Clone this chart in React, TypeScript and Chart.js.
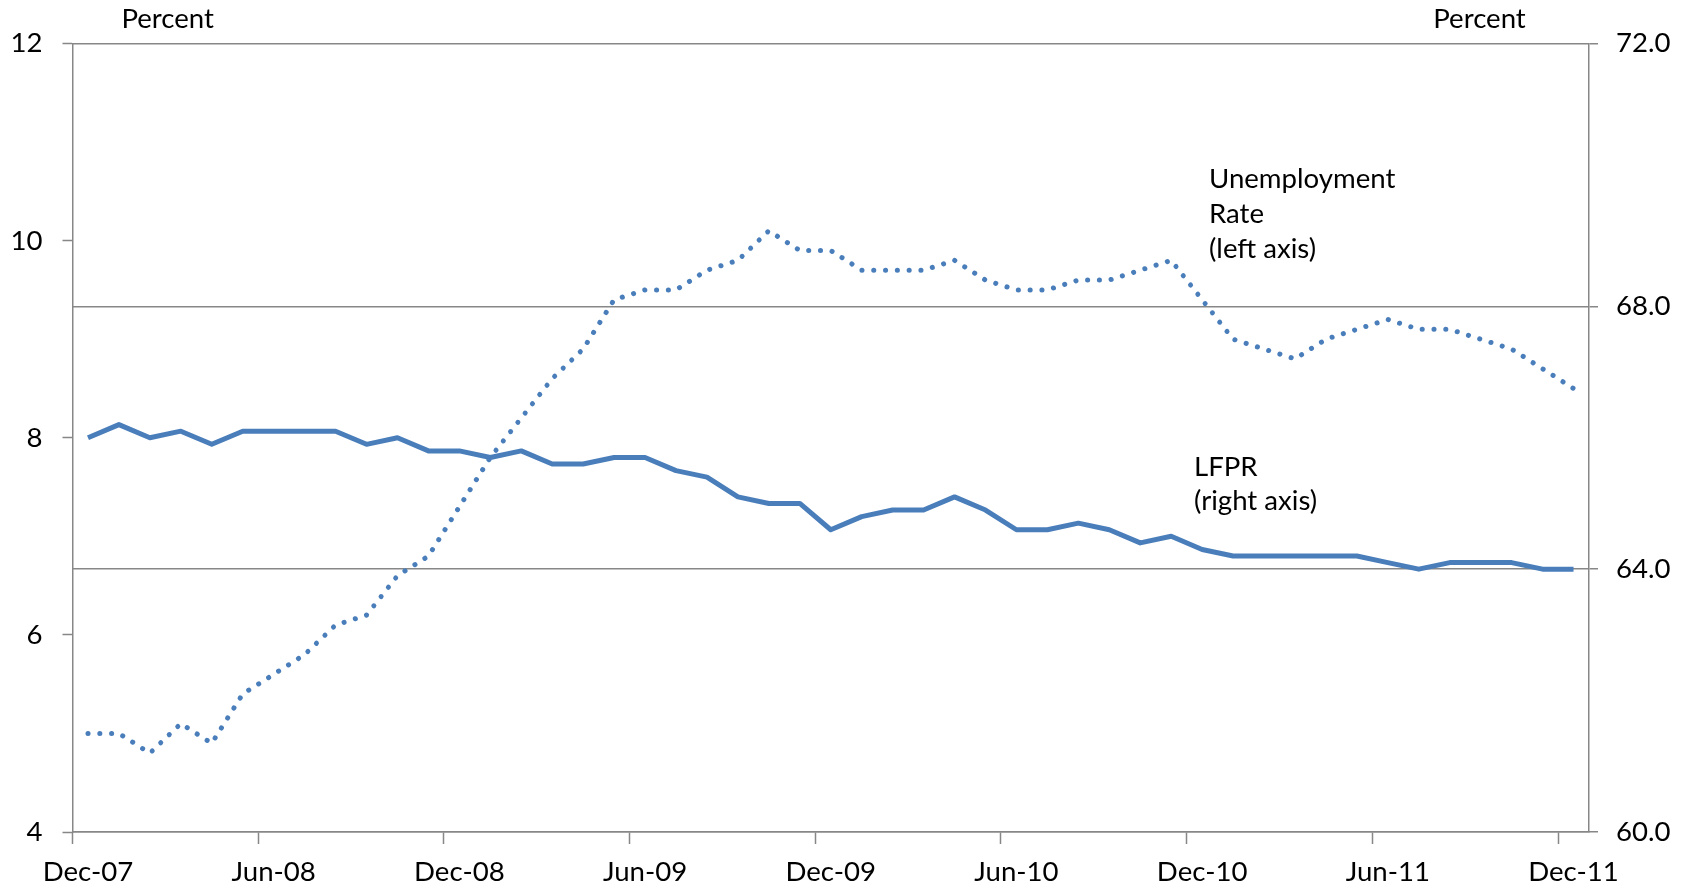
import React, { useEffect, useRef } from 'react';
import { Chart, registerables } from 'chart.js';

Chart.register(...registerables);

const months = [
  'Dec-07',
  'Jan-08', 'Feb-08', 'Mar-08', 'Apr-08', 'May-08', 'Jun-08', 'Jul-08', 'Aug-08', 'Sep-08', 'Oct-08', 'Nov-08', 'Dec-08',
  'Jan-09', 'Feb-09', 'Mar-09', 'Apr-09', 'May-09', 'Jun-09', 'Jul-09', 'Aug-09', 'Sep-09', 'Oct-09', 'Nov-09', 'Dec-09',
  'Jan-10', 'Feb-10', 'Mar-10', 'Apr-10', 'May-10', 'Jun-10', 'Jul-10', 'Aug-10', 'Sep-10', 'Oct-10', 'Nov-10', 'Dec-10',
  'Jan-11', 'Feb-11', 'Mar-11', 'Apr-11', 'May-11', 'Jun-11', 'Jul-11', 'Aug-11', 'Sep-11', 'Oct-11', 'Nov-11', 'Dec-11',
];

// Unemployment rate, percent (left axis)
const unemploymentRate = [
  5.0,
  5.0, 4.8, 5.1, 4.9, 5.4, 5.6, 5.8, 6.1, 6.2, 6.6, 6.8, 7.3,
  7.8, 8.2, 8.6, 8.9, 9.4, 9.5, 9.5, 9.7, 9.8, 10.1, 9.9, 9.9,
  9.7, 9.7, 9.7, 9.8, 9.6, 9.5, 9.5, 9.6, 9.6, 9.7, 9.8, 9.4,
  9.0, 8.9, 8.8, 9.0, 9.1, 9.2, 9.1, 9.1, 9.0, 8.9, 8.7, 8.5,
];

// Labor force participation rate, percent (right axis)
const lfpr = [
  66.0,
  66.2, 66.0, 66.1, 65.9, 66.1, 66.1, 66.1, 66.1, 65.9, 66.0, 65.8, 65.8,
  65.7, 65.8, 65.6, 65.6, 65.7, 65.7, 65.5, 65.4, 65.1, 65.0, 65.0, 64.6,
  64.8, 64.9, 64.9, 65.1, 64.9, 64.6, 64.6, 64.7, 64.6, 64.4, 64.5, 64.3,
  64.2, 64.2, 64.2, 64.2, 64.2, 64.1, 64.0, 64.1, 64.1, 64.1, 64.0, 64.0,
];

const leftAxisRange = [4, 12];
const leftAxisStep = 2;
const rightAxisRange = [60, 72];
const rightAxisStep = 4;
const labelEvery = 6;

const axisTitleText = 'Percent';
const unemploymentLabel = ['Unemployment', 'Rate', '(left axis)'];
const lfprLabel = ['LFPR', '(right axis)'];

const BLUE = '#4A7EBB';
const GRAY = '#878787';
const FONT = 'Lato, "Open Sans", sans-serif';
const FONT_SIZE = 27.6;

const annotationPlugin = {
  id: 'annotations',
  afterDraw(chart: any) {
    const ctx = chart.ctx;
    ctx.save();
    ctx.fillStyle = '#000';
    ctx.font = `${FONT_SIZE}px ${FONT}`;
    ctx.textBaseline = 'alphabetic';
    ctx.textAlign = 'center';
    ctx.fillText(axisTitleText, 167.7, 27.7);
    ctx.fillText(axisTitleText, 1479.5, 27.7);
    ctx.textAlign = 'left';
    unemploymentLabel.forEach((t, i) => ctx.fillText(t, 1209, 188 + i * 34.8));
    lfprLabel.forEach((t, i) => ctx.fillText(t, 1194, 476 + i * 34));
    ctx.restore();
  },
};

export default function App() {
  const ref = useRef<HTMLCanvasElement | null>(null);

  useEffect(() => {
    document.body.style.margin = '0';
    let chart: Chart | null = null;
    let cancelled = false;
    const build = () => {
      if (cancelled || !ref.current) return;
      chart = new Chart(ref.current, {
        type: 'line',
        data: {
          labels: months,
          datasets: [
            {
              label: 'Unemployment Rate',
              data: unemploymentRate,
              yAxisID: 'y',
              borderColor: BLUE,
              borderWidth: 5,
              borderDash: [0.1, 11.7],
              borderCapStyle: 'round',
              borderJoinStyle: 'round',
              pointRadius: 0,
              tension: 0,
              fill: false,
            },
            {
              label: 'LFPR',
              data: lfpr,
              yAxisID: 'y1',
              borderColor: BLUE,
              borderWidth: 5,
              borderJoinStyle: 'round',
              pointRadius: 0,
              tension: 0,
              fill: false,
            },
          ],
        },
        options: {
          responsive: false,
          animation: false,
          events: [],
          layout: { padding: { top: 43.5, left: 0, right: 0, bottom: 0 } },
          plugins: { legend: { display: false }, tooltip: { enabled: false } },
          scales: {
            x: {
              type: 'category',
              offset: true,
              grid: {
                offset: true,
                drawOnChartArea: false,
                drawTicks: true,
                tickLength: 12,
                tickWidth: 1.5,
                tickColor: (c: any) => (c.index % labelEvery === 0 && c.index < months.length ? GRAY : 'rgba(0,0,0,0)'),
              },
              border: { display: true, color: GRAY, width: 1.5 },
              ticks: {
                autoSkip: false,
                maxRotation: 0,
                minRotation: 0,
                padding: 12,
                color: '#000',
                font: { family: FONT, size: FONT_SIZE },
                callback: (_v: any, i: number) => (i % labelEvery === 0 ? months[i] : ''),
              },
              afterFit: (s: any) => {
                s.height = 58;
              },
            },
            y: {
              position: 'left',
              min: leftAxisRange[0],
              max: leftAxisRange[1],
              grid: { drawOnChartArea: false, tickLength: 10, tickWidth: 1.5, tickColor: GRAY },
              border: { display: true, color: GRAY, width: 1.5 },
              ticks: {
                stepSize: leftAxisStep,
                padding: 20,
                color: '#000',
                font: { family: FONT, size: FONT_SIZE },
              },
              afterFit: (s: any) => {
                s.width = 72.5;
              },
            },
            y1: {
              position: 'right',
              min: rightAxisRange[0],
              max: rightAxisRange[1],
              grid: { drawOnChartArea: true, color: GRAY, lineWidth: 1.5, tickLength: 9, tickWidth: 1.5, tickColor: GRAY },
              border: { display: true, color: GRAY, width: 1.5 },
              ticks: {
                stepSize: rightAxisStep,
                padding: 18,
                color: '#000',
                font: { family: FONT, size: FONT_SIZE },
                callback: (v: any) => Number(v).toFixed(1),
              },
              afterFit: (s: any) => {
                s.width = 105;
              },
            },
          },
        },
        plugins: [annotationPlugin],
      });
    };
    const fontsReady = (document as any).fonts
      ? (document as any).fonts.load(`${FONT_SIZE}px Lato`).catch(() => null)
      : Promise.resolve();
    fontsReady.then(build);
    return () => {
      cancelled = true;
      if (chart) chart.destroy();
    };
  }, []);

  return (
    <div style={{ width: 1694, height: 890, background: '#fff' }}>
      <canvas ref={ref} width={1694} height={890} style={{ display: 'block' }} />
    </div>
  );
}
